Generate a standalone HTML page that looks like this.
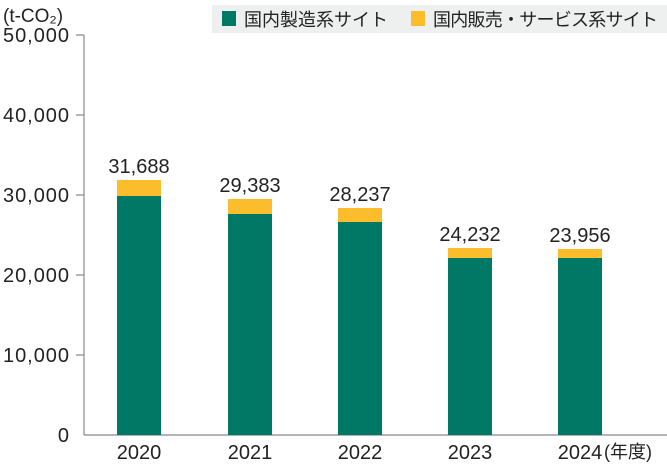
<!DOCTYPE html>
<html><head><meta charset="utf-8"><style>
body{margin:0;background:#fff;}
svg{display:block;font-family:"Liberation Sans","Noto Sans CJK JP",sans-serif;}
</style></head><body>
<svg width="667" height="464" viewBox="0 0 667 464">
<rect x="212" y="5" width="455" height="28" fill="#eef0ef"/>
<rect x="222" y="11" width="14" height="15" fill="#007866"/>
<text x="244" y="26" font-size="18" fill="#222">国内製造系サイト</text>
<rect x="411" y="11" width="14" height="15" fill="#fbbd2c"/>
<text x="433" y="26" font-size="18" fill="#222" textLength="225">国内販売・サービス系サイト</text>
<text x="3" y="22" font-size="19" fill="#222">(t-CO₂)</text>
<g font-size="20" fill="#222" text-anchor="end">
<text x="69" y="42" textLength="66">50,000</text>
<text x="69" y="122" textLength="66">40,000</text>
<text x="69" y="202" textLength="66">30,000</text>
<text x="69" y="282" textLength="66">20,000</text>
<text x="69" y="362" textLength="66">10,000</text>
<text x="69" y="442">0</text>
</g>
<g stroke="#888" stroke-width="1.2">
<line x1="84" y1="35" x2="84" y2="435"/>
<line x1="76" y1="35" x2="84" y2="35"/>
<line x1="76" y1="115" x2="84" y2="115"/>
<line x1="76" y1="195" x2="84" y2="195"/>
<line x1="76" y1="275" x2="84" y2="275"/>
<line x1="76" y1="355" x2="84" y2="355"/>
<line x1="84" y1="435" x2="667" y2="435"/>
</g>
<g fill="#fbbd2c">
<rect x="117" y="180" width="44" height="16"/>
<rect x="228" y="199" width="44" height="15"/>
<rect x="338" y="208" width="44" height="14"/>
<rect x="448" y="248" width="44" height="10"/>
<rect x="558" y="249" width="44" height="9"/>
</g>
<g fill="#007866">
<rect x="117" y="196" width="44" height="239"/>
<rect x="228" y="214" width="44" height="221"/>
<rect x="338" y="222" width="44" height="213"/>
<rect x="448" y="258" width="44" height="177"/>
<rect x="558" y="258" width="44" height="177"/>
</g>
<g font-size="20" fill="#222" text-anchor="middle">
<text x="139" y="173">31,688</text>
<text x="250" y="192">29,383</text>
<text x="360" y="201">28,237</text>
<text x="470" y="241">24,232</text>
<text x="580" y="242">23,956</text>
<text x="139" y="459">2020</text>
<text x="250" y="459">2021</text>
<text x="360" y="459">2022</text>
<text x="470" y="459">2023</text>
<text x="580" y="459">2024</text>
</g>
<text x="604" y="458" font-size="18" fill="#222">(年度)</text>
</svg>
</body></html>
